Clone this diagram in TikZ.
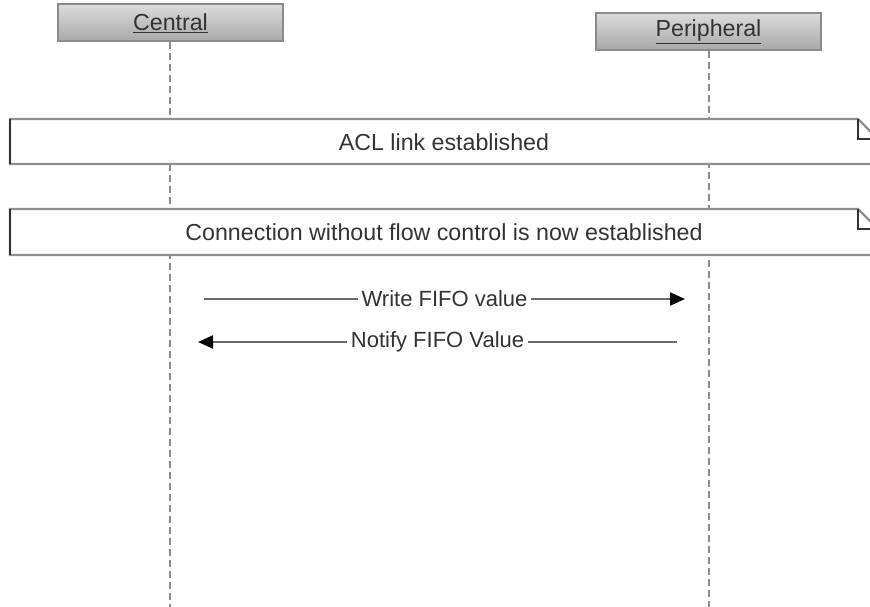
\documentclass[tikz,border=0pt]{standalone}
\usepackage{fontspec}
\setmainfont{Liberation Sans}
\usetikzlibrary{arrows.meta}
\definecolor{txt}{HTML}{333333}
\definecolor{lifegray}{HTML}{8C8C8C}
\definecolor{msggray}{HTML}{6A6A6A}
\definecolor{boxborder}{HTML}{8A8A8A}
\definecolor{noteborder}{HTML}{8F8F8F}
\tikzset{
  x=1pt, y=-1pt,
  every node/.style={font=\fontsize{23.2}{27}\selectfont, text=txt},
  actor/.style={draw=boxborder, line width=2pt, top color=gray!28, bottom color=gray!68,
    minimum width=225pt, minimum height=37pt, inner sep=0pt},
  lifeline/.style={draw=lifegray, line width=2pt, dash pattern=on 7pt off 4pt},
  notebody/.style={draw=noteborder, line width=2.2pt, fill=white},
  noteedge/.style={draw=black!80, line width=2pt},
  msg/.style={draw=msggray, line width=2.2pt,
    -{Triangle[length=15pt,width=13pt,color=black]}},
  msglabel/.style={fill=white, inner xsep=4pt, inner ysep=1pt,
    font=\fontsize{22}{26}\selectfont}
}
\begin{document}
\begin{tikzpicture}
\useasboundingbox (0,0) rectangle (870,607);
\clip (0,0) rectangle (870,607);

% participants
\node[actor] (central) at (170.5,23) {\underline{Central}};
\node[actor] (peripheral) at (708.5,31.5) {\underline{Peripheral}};

% lifelines
\coordinate (cend) at (170,607);
\coordinate (pend) at (709,607);
\draw[lifeline] (central.south -| cend) -- (cend);
\draw[lifeline] (peripheral.south -| pend) -- (pend);

% first note
\path[notebody] (10,119) -- (858,119) -- (878,139) -- (878,164) -- (10,164) -- cycle;
\draw[noteedge] (10,119) -- (10,164);
\draw[noteedge] (858,119) -- (858,139) -- (878,139);
\node (acl) at (444,142) {ACL link established};

% second note
\path[notebody] (10,209) -- (858,209) -- (878,229) -- (878,255) -- (10,255) -- cycle;
\draw[noteedge] (10,209) -- (10,255);
\draw[noteedge] (858,209) -- (858,229) -- (878,229);
\node (conn) at (444,232) {Connection without flow control is now established};

% messages
\coordinate (w1) at (204,299);
\coordinate (w2) at (685,299);
\draw[msg] (w1) -- node[msglabel] (wlab) {Write FIFO value} (w2);
\coordinate (n1) at (677,342);
\coordinate (n2) at (198,342);
\draw[msg] (n1) -- node[msglabel] (nlab) {Notify FIFO Value} (n2);
\end{tikzpicture}
\end{document}
